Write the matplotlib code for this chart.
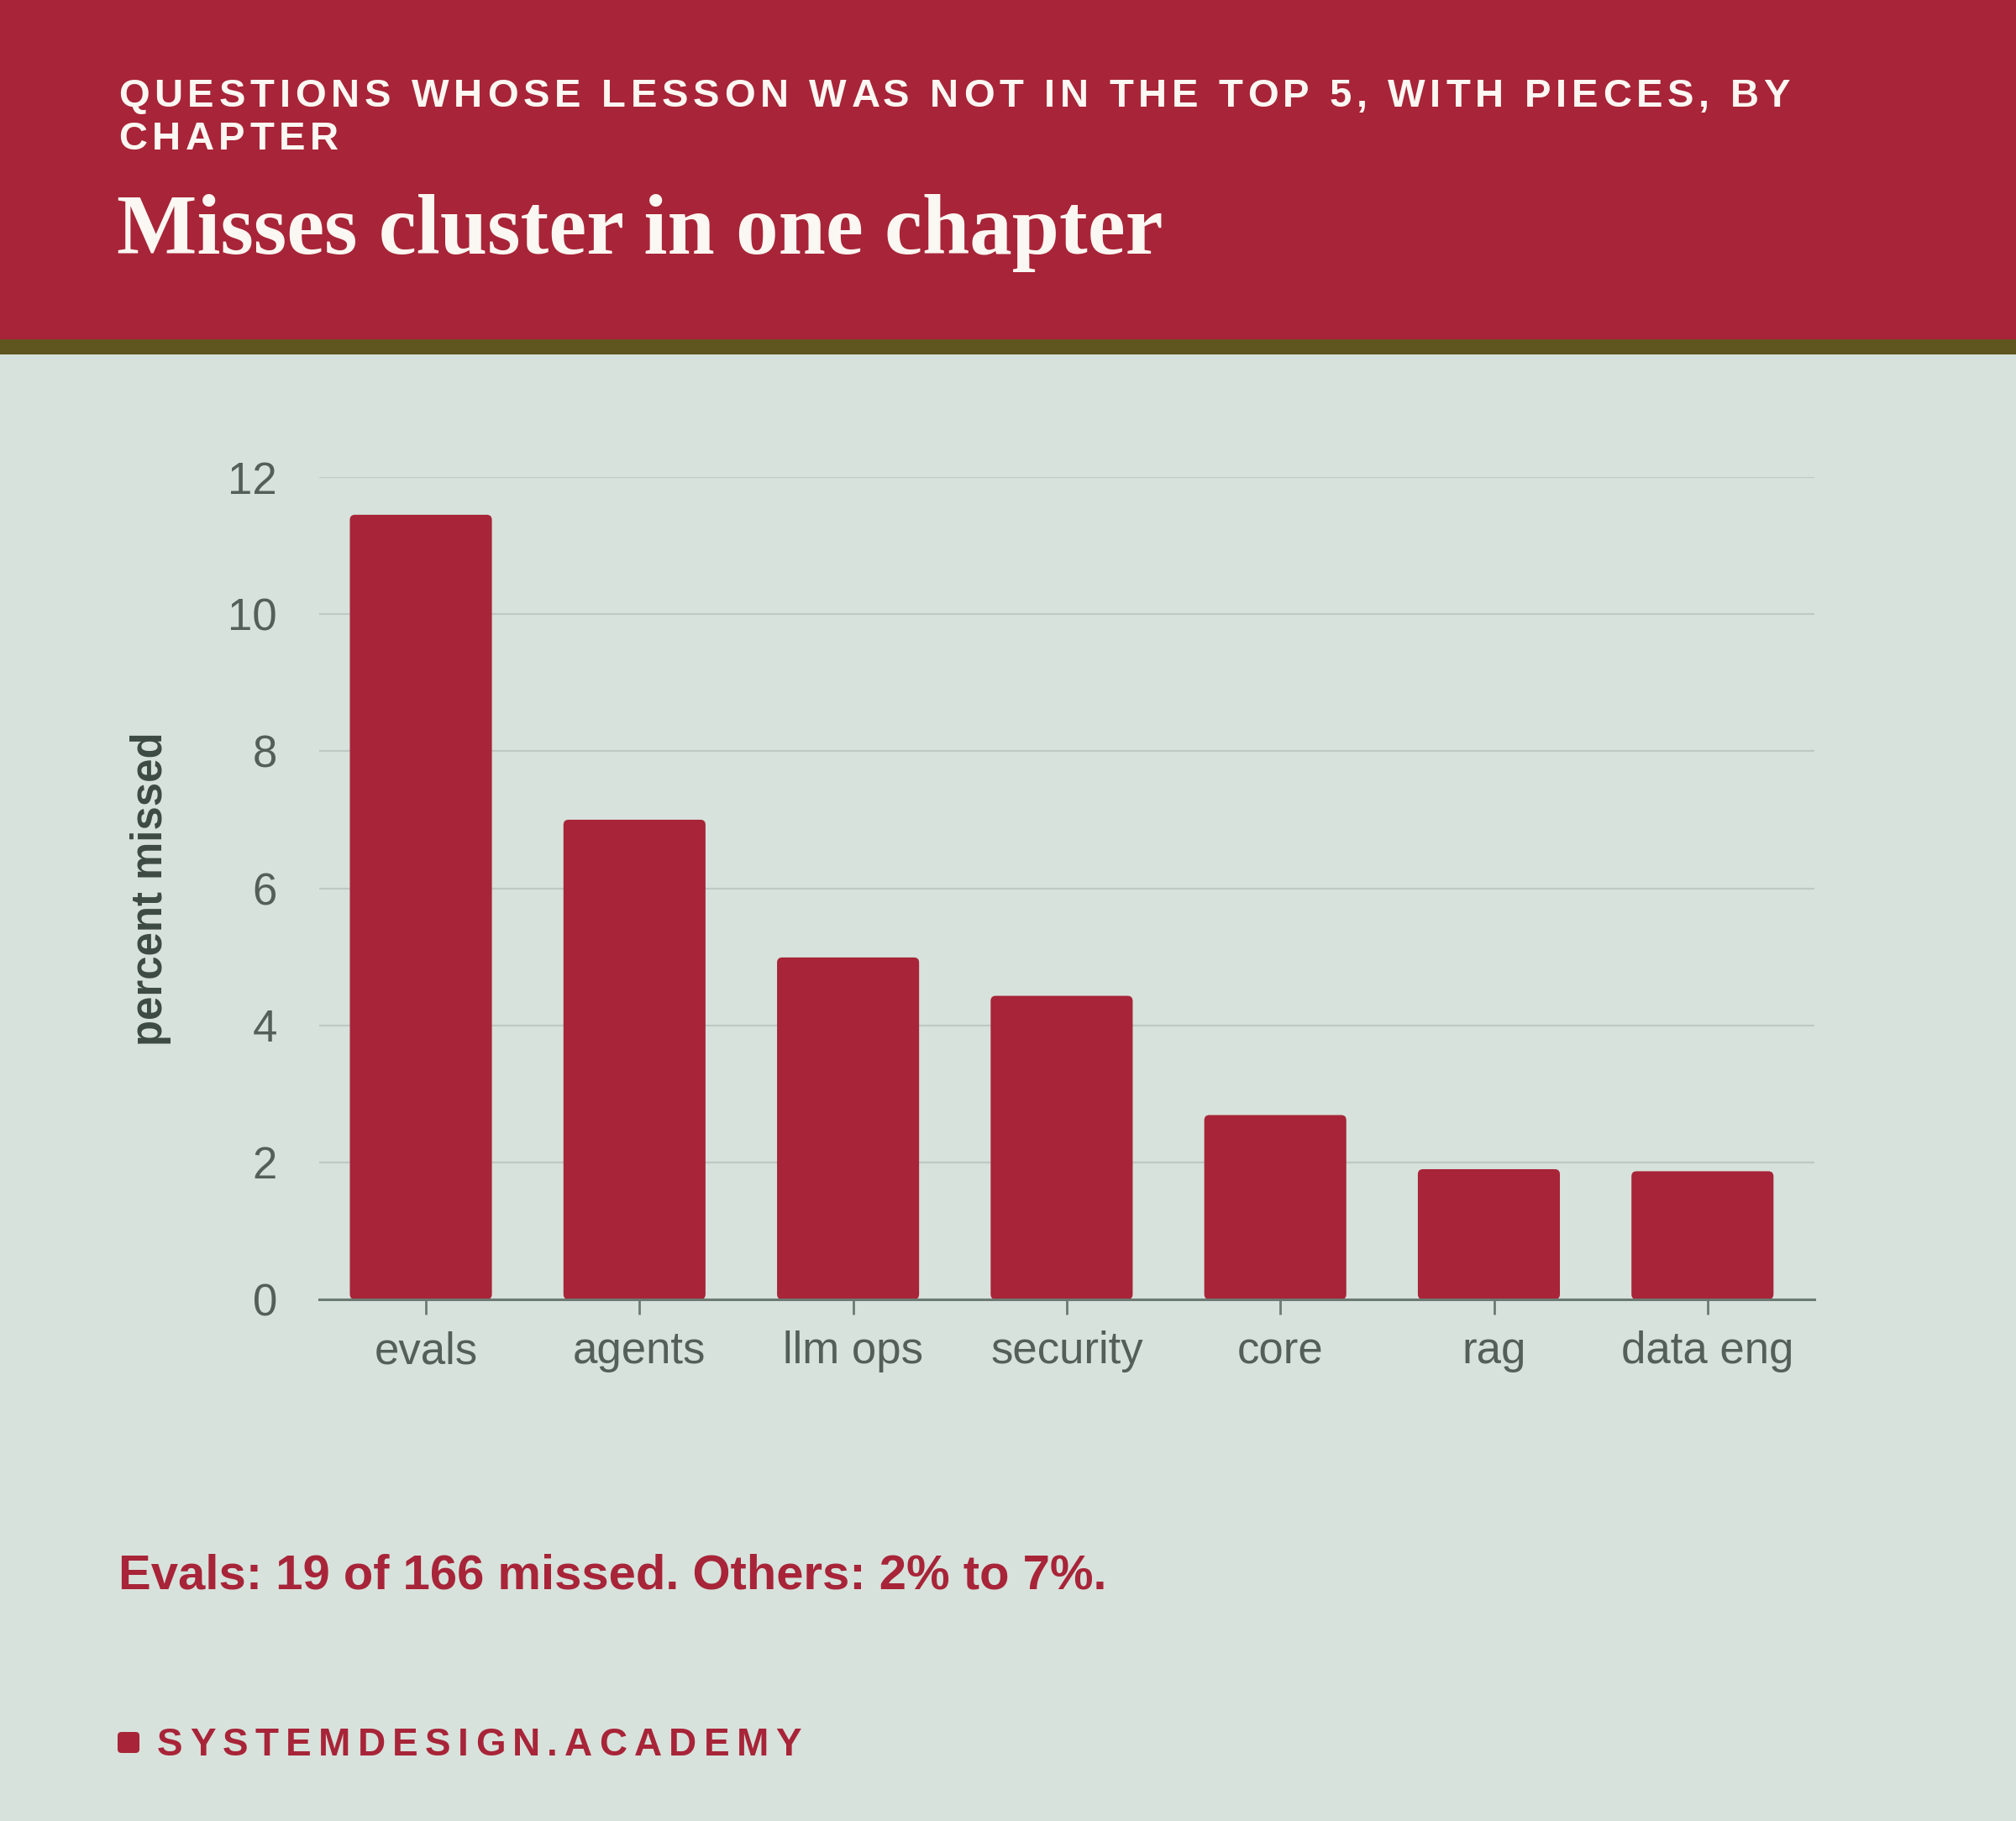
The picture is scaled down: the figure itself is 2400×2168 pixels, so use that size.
import matplotlib
matplotlib.use("Agg")
import matplotlib.pyplot as plt
import numpy as np
from matplotlib.patches import Rectangle, FancyBboxPatch
from matplotlib.font_manager import FontProperties

# data
chapters = ["evals", "agents", "llm ops", "security", "core", "rag", "data eng"]
pct_missed = [11.45, 7.0, 4.99, 4.43, 2.69, 1.90, 1.87]
y_ticks = [0, 2, 4, 6, 8, 10, 12]

kicker_lines = ["QUESTIONS WHOSE LESSON WAS NOT IN THE TOP 5, WITH PIECES, BY", "CHAPTER"]
title = "Misses cluster in one chapter"
note = "Evals: 19 of 166 missed. Others: 2% to 7%."
brand = "SYSTEMDESIGN.ACADEMY"

RED = "#a82438"
OLIVE = "#5f551e"
BG = "#d7e2dc"
GRID = "#bdc9c3"
AXIS = "#6b7a72"
TICK_TXT = "#555f5a"
LABEL_TXT = "#3d4a44"

W, H, DPI = 2400, 2168, 200
fig = plt.figure(figsize=(W / DPI, H / DPI), dpi=DPI, facecolor=BG)


def fx(x):
    return x / W


def fy(y):
    # y measured in pixels from the top
    return 1 - y / H


def tracked_text(x, y, s, size, target_w, **kw):
    '''Draw s one glyph at a time, spread so it spans target_w pixels.'''
    fp = FontProperties(family=kw.pop("family", "Liberation Sans"),
                        weight=kw.pop("weight", "bold"), size=size)
    r = fig.canvas.get_renderer()

    def width(t):
        if not t:
            return 0.0
        a = r.get_text_width_height_descent(t + "|", fp, ismath=False)[0]
        b = r.get_text_width_height_descent("|", fp, ismath=False)[0]
        return a - b

    natural = width(s)
    tracking = (target_w - natural) / max(len(s) - 1, 1) if target_w else 0
    for i, ch in enumerate(s):
        if ch == " ":
            continue
        xx = x + width(s[:i]) + i * tracking
        fig.text(fx(xx), fy(y), ch, fontproperties=fp, va="baseline", ha="left", **kw)


# header bands
fig.patches.append(Rectangle((0, fy(404)), 1, 404 / H, transform=fig.transFigure,
                             facecolor=RED, edgecolor="none", zorder=0))
fig.patches.append(Rectangle((0, fy(422)), 1, 18 / H, transform=fig.transFigure,
                             facecolor=OLIVE, edgecolor="none", zorder=0))

tracked_text(141, 127, kicker_lines[0], 17, 1990, color="#fbf7f2")
tracked_text(141, 178, kicker_lines[1], 17, 262, color="#fbf7f2")

fig.text(fx(139), fy(302), title, family="Liberation Serif", weight="bold",
         size=36.4, color="#fbf7f2", va="baseline", ha="left")

# chart
ax = fig.add_axes([fx(380), fy(1547), fx(1780), (1547 - 568) / H])
ax.set_facecolor(BG)
x = np.arange(len(chapters))
# bars sit a touch left of their ticks in the reference
bars = ax.bar(x - 0.024, pct_missed, width=0.665, color=RED, zorder=3)
ax.set_xlim(-0.5, len(chapters) - 0.5)
ax.set_ylim(0, 12)

# swap plain bars for slightly rounded ones
rx = 0.024
ry = rx * 3.1
for b in bars:
    b.set_visible(False)
    p = FancyBboxPatch((b.get_x(), b.get_y()), b.get_width(), b.get_height(),
                       boxstyle="round,pad=0,rounding_size=%f" % rx,
                       mutation_aspect=ry / rx, facecolor=RED, edgecolor="none", zorder=3)
    ax.add_patch(p)

ax.set_yticks(y_ticks)
ax.set_xticks(x)
ax.set_xticklabels(chapters)
ax.grid(axis="y", color=GRID, linewidth=0.8, zorder=0)
ax.set_axisbelow(True)
for side in ["left", "right", "top"]:
    ax.spines[side].set_visible(False)
ax.spines["bottom"].set_color(AXIS)
ax.spines["bottom"].set_linewidth(1.1)
ax.spines["bottom"].set_zorder(4)
ax.tick_params(axis="y", length=0, pad=18, labelsize=19, labelcolor=TICK_TXT)
ax.tick_params(axis="x", length=6.5, width=1.0, color=AXIS, pad=7,
               labelsize=19, labelcolor=TICK_TXT)
for lab in ax.get_xticklabels() + ax.get_yticklabels():
    lab.set_family("Liberation Sans")

fig.text(fx(180), fy(1058), "percent missed", rotation=90, ha="center", va="center",
         family="Liberation Sans", weight="bold", size=18.3, color=LABEL_TXT)

# note and footer
fig.text(fx(141), fy(1892), note, family="Liberation Sans", weight="bold",
         size=20.9, color=RED, va="baseline", ha="left")

fig.patches.append(FancyBboxPatch((fx(140), fy(2087)), fx(26), 25 / H,
                                  boxstyle="round,pad=0,rounding_size=0.002",
                                  transform=fig.transFigure, facecolor=RED,
                                  edgecolor="none"))
tracked_text(187, 2090, brand, 16.5, 767, color=RED)

fig.savefig("out.png", dpi=DPI, facecolor=BG)
